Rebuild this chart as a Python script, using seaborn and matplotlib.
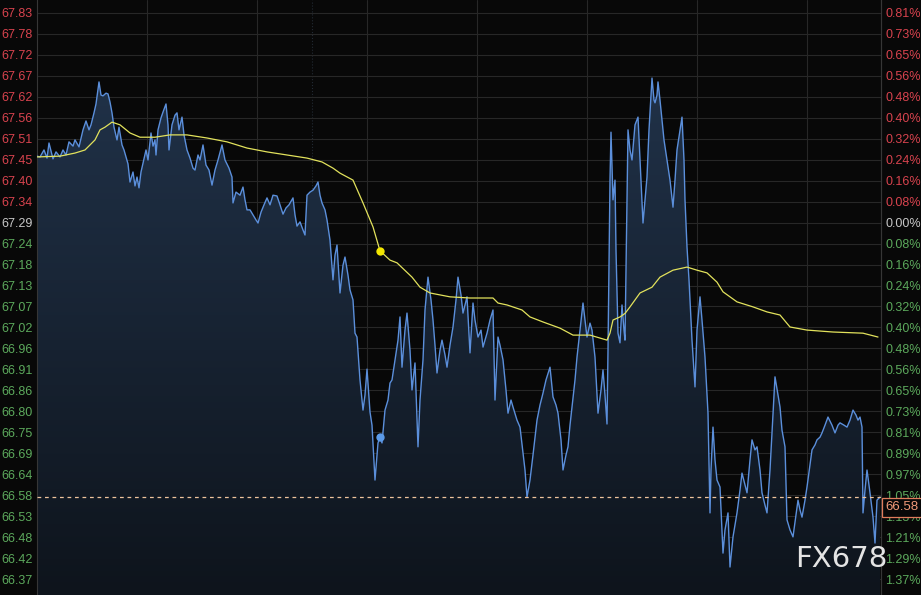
import numpy as np
import pandas as pd
import seaborn as sns
import matplotlib.pyplot as plt
from matplotlib import transforms
from matplotlib.colors import LinearSegmentedColormap

sns.set_theme(style="dark")
plt.rcParams["font.family"] = ["Liberation Sans", "DejaVu Sans"]

# intraday price, time index in chart steps
t_price = [0, 3, 7, 10, 12, 16, 19, 23, 26, 29, 32, 36, 38, 42, 46, 49, 52, 54, 57, 59,
           62, 64, 66, 69, 71, 73, 75, 77, 80, 82, 85, 87, 91, 93, 96, 98, 100, 102, 104, 106,
           109, 111, 114, 116, 118, 119, 121, 124, 126, 129, 131, 132, 135, 138, 140, 142, 145, 147, 150, 153,
           156, 158, 161, 163, 166, 169, 172, 175, 178, 181, 185, 188, 192, 195, 196, 199, 203, 206, 208, 210,
           213, 216, 219, 221, 224, 227, 230, 233, 236, 240, 243, 246, 249, 252, 256, 258, 260, 263, 266, 268,
           270, 273, 276, 279, 281, 283, 285, 288, 290, 293, 296, 298, 300, 303, 306, 308, 311, 313, 316, 318,
           320, 323, 326, 328, 330, 333, 335, 338, 341, 343, 345, 348, 351, 353, 355, 358, 361, 363, 365, 368,
           370, 373, 375, 378, 381, 383, 386, 388, 391, 394, 396, 398, 400, 403, 405, 408, 410, 413, 416, 419,
           421, 424, 426, 428, 430, 433, 436, 438, 441, 444, 446, 450, 453, 456, 458, 461, 463, 466, 469, 471,
           474, 476, 480, 483, 486, 488, 490, 493, 496, 500, 503, 506, 509, 513, 516, 519, 521, 524, 526, 529,
           531, 533, 535, 538, 540, 543, 546, 548, 550, 553, 555, 558, 561, 564, 566, 568, 570, 571, 573, 574,
           576, 578, 579, 581, 583, 585, 587, 588, 590, 591, 593, 595, 598, 601, 603, 606, 608, 610, 612, 615,
           617, 618, 620, 621, 623, 625, 627, 630, 633, 636, 638, 640, 643, 645, 647, 648, 650, 652, 653, 655,
           658, 660, 663, 665, 668, 671, 673, 674, 676, 678, 680, 683, 686, 688, 691, 693, 696, 698, 700, 703,
           705, 708, 710, 713, 715, 718, 720, 723, 725, 728, 730, 733, 735, 738, 741, 743, 745, 748, 750, 753,
           756, 759, 761, 763, 765, 768, 770, 773, 775, 778, 780, 783, 785, 788, 791, 795, 798, 801, 803, 807,
           810, 813, 816, 819, 821, 823, 825, 826, 828, 830, 833, 836, 838, 840, 843]
price = [67.462, 67.460, 67.478, 67.457, 67.496, 67.455, 67.473, 67.460, 67.478, 67.465,
         67.499, 67.488, 67.504, 67.486, 67.530, 67.553, 67.530, 67.543, 67.574, 67.597,
         67.654, 67.620, 67.618, 67.625, 67.623, 67.602, 67.574, 67.537, 67.504, 67.537,
         67.491, 67.478, 67.442, 67.395, 67.421, 67.385, 67.408, 67.380, 67.421, 67.444,
         67.478, 67.452, 67.522, 67.488, 67.504, 67.465, 67.530, 67.561, 67.576, 67.597,
         67.543, 67.478, 67.543, 67.568, 67.574, 67.530, 67.563, 67.517, 67.478, 67.457,
         67.431, 67.426, 67.465, 67.452, 67.491, 67.439, 67.426, 67.387, 67.426, 67.452,
         67.491, 67.452, 67.431, 67.408, 67.341, 67.369, 67.361, 67.382, 67.349, 67.323,
         67.323, 67.310, 67.297, 67.289, 67.317, 67.336, 67.354, 67.336, 67.361, 67.359,
         67.336, 67.312, 67.328, 67.336, 67.354, 67.310, 67.281, 67.292, 67.271, 67.258,
         67.361, 67.369, 67.374, 67.385, 67.395, 67.361, 67.341, 67.323, 67.297, 67.245,
         67.142, 67.206, 67.232, 67.108, 67.180, 67.201, 67.154, 67.116, 67.090, 67.004,
         66.994, 66.883, 66.805, 66.844, 66.911, 66.800, 66.766, 66.624, 66.720, 66.735,
         66.720, 66.805, 66.831, 66.875, 66.883, 66.935, 66.986, 67.046, 66.916, 67.012,
         67.056, 66.960, 66.857, 66.927, 66.710, 66.831, 66.935, 67.064, 67.149, 67.090,
         67.038, 66.973, 66.901, 66.960, 66.986, 66.948, 66.916, 66.973, 67.020, 67.090,
         67.149, 67.103, 67.056, 67.077, 67.098, 66.953, 67.082, 67.038, 66.994, 67.012,
         66.968, 67.004, 67.038, 67.064, 66.831, 66.994, 66.973, 66.935, 66.857, 66.797,
         66.831, 66.813, 66.779, 66.761, 66.694, 66.650, 66.580, 66.624, 66.689, 66.779,
         66.818, 66.849, 66.883, 66.916, 66.839, 66.818, 66.797, 66.728, 66.650, 66.689,
         66.710, 66.766, 66.813, 66.883, 66.942, 67.012, 67.082, 67.038, 66.994, 67.030,
         67.012, 66.942, 66.797, 66.857, 66.909, 66.844, 66.769, 66.960, 67.400, 67.524,
         67.349, 67.400, 67.219, 67.004, 66.979, 67.077, 67.012, 66.986, 67.349, 67.530,
         67.478, 67.452, 67.543, 67.563, 67.452, 67.289, 67.349, 67.408, 67.530, 67.664,
         67.607, 67.600, 67.620, 67.654, 67.607, 67.556, 67.504, 67.452, 67.400, 67.330,
         67.400, 67.478, 67.530, 67.563, 67.452, 67.349, 67.227, 67.142, 67.090, 66.986,
         66.865, 67.012, 67.098, 67.038, 66.942, 66.797, 66.539, 66.650, 66.761, 66.676,
         66.624, 66.606, 66.435, 66.495, 66.539, 66.399, 66.477, 66.508, 66.539, 66.598,
         66.642, 66.611, 66.591, 66.676, 66.728, 66.702, 66.710, 66.650, 66.591, 66.559,
         66.539, 66.650, 66.746, 66.891, 66.844, 66.813, 66.753, 66.710, 66.521, 66.495,
         66.477, 66.534, 66.572, 66.547, 66.528, 66.572, 66.606, 66.663, 66.702, 66.715,
         66.728, 66.735, 66.746, 66.766, 66.787, 66.766, 66.746, 66.766, 66.772, 66.766,
         66.761, 66.779, 66.805, 66.792, 66.779, 66.787, 66.761, 66.539, 66.598, 66.650,
         66.591, 66.528, 66.461, 66.572, 66.580]

# running average line
t_avg = [0, 23, 38, 48, 53, 58, 63, 68, 75, 83, 93, 103, 118, 133, 150, 170, 190, 210, 230, 250,
         270, 285, 296, 303, 316, 326, 336, 343, 353, 360, 375, 383, 393, 413, 433, 456, 461, 470, 485, 493,
         506, 523, 536, 553, 570, 573, 576, 583, 588, 593, 603, 615, 623, 636, 650, 660, 670, 680, 686, 700,
         716, 730, 743, 753, 770, 796, 826, 841]
avg = [67.460, 67.462, 67.470, 67.478, 67.491, 67.504, 67.530, 67.537, 67.550, 67.543,
       67.522, 67.511, 67.511, 67.517, 67.517, 67.509, 67.499, 67.483, 67.473, 67.465,
       67.457, 67.447, 67.431, 67.418, 67.400, 67.341, 67.279, 67.217, 67.193, 67.186,
       67.149, 67.123, 67.108, 67.098, 67.095, 67.095, 67.082, 67.077, 67.064, 67.046,
       67.033, 67.017, 66.999, 66.999, 66.986, 67.004, 67.038, 67.046, 67.055, 67.072,
       67.108, 67.123, 67.149, 67.167, 67.175, 67.167, 67.160, 67.136, 67.111, 67.085,
       67.072, 67.059, 67.051, 67.020, 67.012, 67.007, 67.004, 66.994]

mark_t = 343
mark_price = 66.735
mark_avg = 67.217
last_price = 66.58
prev_close = 67.29
tick_step = 0.05424

left_labels = ["67.83", "67.78", "67.72", "67.67", "67.62", "67.56", "67.51", "67.45", "67.40", "67.34",
               "67.29", "67.24", "67.18", "67.13", "67.07", "67.02", "66.96", "66.91", "66.86", "66.80",
               "66.75", "66.69", "66.64", "66.58", "66.53", "66.48", "66.42", "66.37"]
right_labels = ["0.81%", "0.73%", "0.65%", "0.56%", "0.48%", "0.40%", "0.32%", "0.24%", "0.16%", "0.08%",
                "0.00%", "0.08%", "0.16%", "0.24%", "0.32%", "0.40%", "0.48%", "0.56%", "0.65%", "0.73%",
                "0.81%", "0.89%", "0.97%", "1.05%", "1.13%", "1.21%", "1.29%", "1.37%"]

BG = "#080808"
GRID = "#272727"
BLUE = "#5b8fdb"
YELLOW = "#e2e25c"
RED = "#d8434e"
GREEN = "#5ca95c"
GREY = "#c8c8c8"

x_max = 844
y_lo, y_hi = 66.3266, 67.866

df_price = pd.DataFrame({"t": t_price, "price": price})
df_avg = pd.DataFrame({"t": t_avg, "avg": avg})

fig = plt.figure(figsize=(9.21, 5.95), dpi=100, facecolor=BG)
ax = fig.add_axes([37 / 921, 0, 844 / 921, 1])
ax.set_facecolor(BG)

# gradient area under the price line
area = ax.fill_between(df_price["t"], df_price["price"], y_lo, color="none", lw=0)
cmap = LinearSegmentedColormap.from_list("area", ["#0e141c", "#23364f"])
grad = np.linspace(0, 1, 256).reshape(-1, 1)
im = ax.imshow(grad, aspect="auto", cmap=cmap, origin="lower",
               extent=[0, x_max, y_lo, y_hi], zorder=1)
im.set_clip_path(area.get_paths()[0], transform=ax.transData)

sns.lineplot(data=df_price, x="t", y="price", ax=ax, color=BLUE, lw=1.0, zorder=3,
             sort=False, estimator=None)
sns.lineplot(data=df_avg, x="t", y="avg", ax=ax, color=YELLOW, lw=0.9, zorder=4,
             sort=False, estimator=None)
ax.plot([mark_t], [mark_avg], "o", color="#f2e600", ms=6, mec="none", zorder=6)
ax.plot([mark_t], [mark_price], "o", color="#5b9ae8", ms=6, mec="none", zorder=6)

ax.axhline(last_price, color="#eec39c", lw=0.9, ls=(0, (3, 3)), zorder=5)
ax.axvline(275, color="#222a33", lw=0.8, ls=":", zorder=0.5)

ticks = [prev_close + tick_step * k for k in range(10, -18, -1)]
colors = [RED if k > 0 else (GREY if k == 0 else GREEN) for k in range(10, -18, -1)]

ax.set_xlim(0, x_max)
ax.set_ylim(y_lo, y_hi)
ax.set_xticks(np.arange(110, x_max, 110))
ax.set_xticklabels([])
ax.set_yticks(ticks)
ax.set_yticklabels(left_labels)
ax.set_xlabel("")
ax.set_ylabel("")
ax.grid(True, color=GRID, lw=0.8)
ax.tick_params(axis="both", length=0)
ax.tick_params(axis="y", pad=3, labelsize=9)
for lbl, c in zip(ax.get_yticklabels(), colors):
    lbl.set_color(c)
for side in ["top", "bottom"]:
    ax.spines[side].set_visible(False)
for side in ["left", "right"]:
    ax.spines[side].set_color("#363636")
    ax.spines[side].set_linewidth(0.8)

ax2 = ax.twinx()
ax2.set_ylim(y_lo, y_hi)
ax2.set_yticks(ticks)
ax2.set_yticklabels(right_labels)
ax2.grid(False)
ax2.tick_params(axis="y", length=0, pad=3, labelsize=9)
for lbl, c in zip(ax2.get_yticklabels(), colors):
    lbl.set_color(c)
for side in ["top", "bottom", "left"]:
    ax2.spines[side].set_visible(False)
ax2.spines["right"].set_color("#363636")
ax2.spines["right"].set_linewidth(0.8)

# current price tag on the right axis, hanging just below the dashed line
blend = transforms.blended_transform_factory(ax2.transAxes, ax2.transData)
ax2.annotate(f"{last_price:.2f}", xy=(1.0, last_price), xycoords=blend,
             xytext=(3, -3), textcoords="offset points", ha="left", va="top",
             color="#f29a78", fontsize=9.5, annotation_clip=False, zorder=10,
             bbox=dict(boxstyle="square,pad=0.25", fc=BG, ec="#e07c5c", lw=0.9))

fig.text(0.913, 0.06, "FX678", ha="center", va="center", color="#e4e4e4",
         fontsize=21, family="DejaVu Sans", zorder=20)

fig.savefig("out.png", dpi=100, facecolor=BG)
